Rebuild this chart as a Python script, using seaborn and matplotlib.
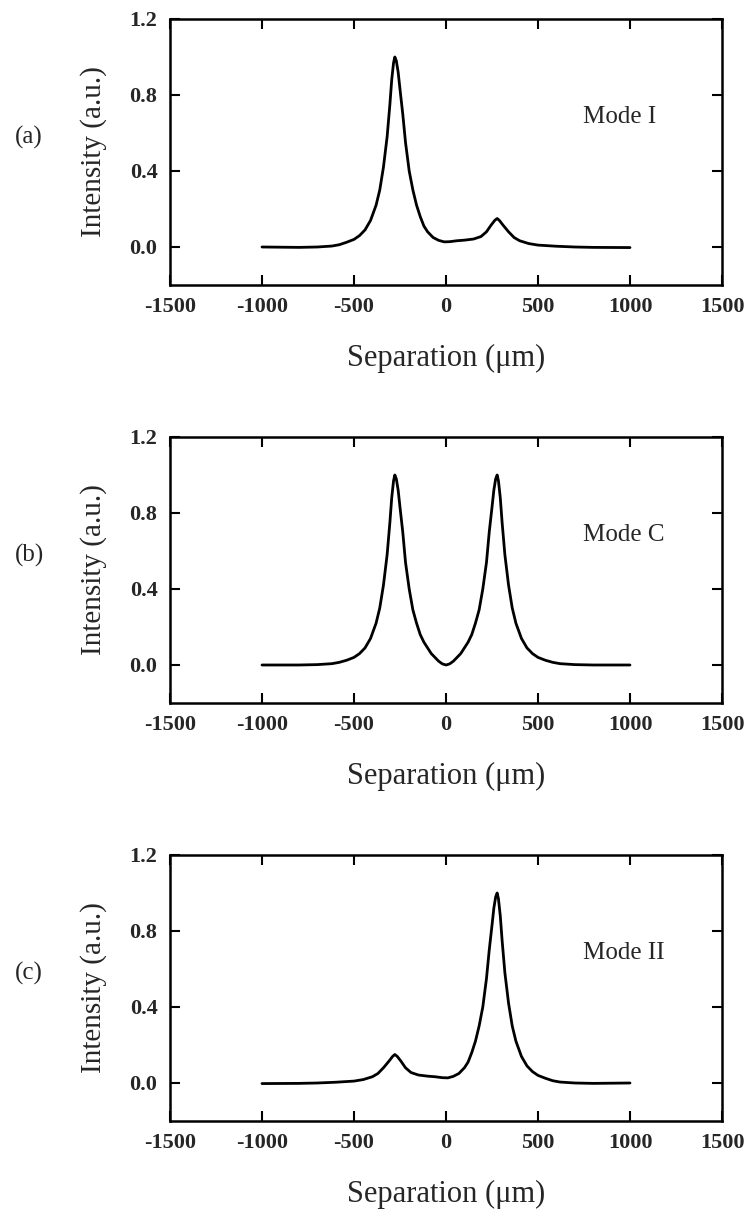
import numpy as np
import pandas as pd
import matplotlib
matplotlib.use("Agg")
import matplotlib.pyplot as plt
import seaborn as sns

# ---- data ----
sep_I = [-1000, -800, -700, -620, -580, -540, -500, -470, -440, -410, -380, -360, -340, -320, -305, -295, -285, -278, -270, -260, -250, -235, -220, -200, -180, -160, -140, -120, -100, -70, -40, -10, 20, 60, 100, 150, 190, 220, 245, 265, 278, 290, 310, 340, 370, 400, 450, 500, 600, 700, 800, 1000]
int_I = [0.0, -0.002, 0.0, 0.005, 0.012, 0.025, 0.04, 0.06, 0.09, 0.14, 0.22, 0.30, 0.42, 0.58, 0.75, 0.88, 0.97, 1.0, 0.98, 0.92, 0.83, 0.70, 0.55, 0.40, 0.30, 0.22, 0.16, 0.11, 0.08, 0.05, 0.035, 0.027, 0.028, 0.033, 0.036, 0.042, 0.055, 0.08, 0.115, 0.14, 0.15, 0.14, 0.115, 0.08, 0.05, 0.033, 0.018, 0.01, 0.004, 0.0, -0.002, -0.003]

sep_C = [-1000, -800, -700, -620, -580, -540, -500, -470, -440, -410, -380, -360, -340, -320, -305, -295, -285, -278, -270, -260, -250, -235, -220, -200, -180, -160, -140, -120, -100, -80, -60, -40, -20, 0,
         20, 40, 60, 80, 100, 120, 140, 160, 180, 200, 220, 235, 250, 260, 270, 278, 285, 295, 305, 320, 340, 360, 380, 410, 440, 470, 500, 540, 580, 620, 700, 800, 1000]
int_C = [0.0, 0.0, 0.002, 0.007, 0.014, 0.025, 0.04, 0.06, 0.09, 0.14, 0.22, 0.30, 0.42, 0.58, 0.75, 0.88, 0.97, 1.0, 0.98, 0.92, 0.83, 0.70, 0.54, 0.40, 0.29, 0.22, 0.16, 0.12, 0.09, 0.06, 0.04, 0.02, 0.006, 0.0,
         0.006, 0.02, 0.04, 0.06, 0.09, 0.12, 0.16, 0.22, 0.29, 0.40, 0.54, 0.70, 0.83, 0.92, 0.98, 1.0, 0.97, 0.88, 0.75, 0.58, 0.42, 0.30, 0.22, 0.14, 0.09, 0.06, 0.04, 0.025, 0.014, 0.007, 0.002, 0.0, 0.0]

sep_II = [-1000, -800, -700, -600, -500, -450, -400, -370, -340, -310, -290, -278, -265, -245, -220, -190, -150, -100, -60, -20, 10, 40, 70, 100, 120, 140, 160, 180, 200, 220, 235, 250, 260, 270, 278, 285, 295, 305, 320, 340, 360, 380, 410, 440, 470, 500, 540, 580, 620, 700, 800, 1000]
int_II = [-0.003, -0.002, 0.0, 0.004, 0.01, 0.018, 0.033, 0.05, 0.08, 0.115, 0.14, 0.15, 0.14, 0.115, 0.08, 0.055, 0.042, 0.036, 0.033, 0.028, 0.027, 0.035, 0.05, 0.08, 0.11, 0.16, 0.22, 0.30, 0.40, 0.55, 0.70, 0.83, 0.92, 0.98, 1.0, 0.97, 0.88, 0.75, 0.58, 0.42, 0.30, 0.22, 0.14, 0.09, 0.06, 0.04, 0.025, 0.012, 0.005, 0.0, -0.002, 0.0]

panel_tags = ["(a)", "(b)", "(c)"]
mode_names = ["Mode I", "Mode C", "Mode II"]
x_ticks = [-1500, -1000, -500, 0, 500, 1000, 1500]
y_ticks = [0.0, 0.4, 0.8, 1.2]
x_label = "Separation (\u03bcm)"
y_label = "Intensity (a.u.)"

series = [(sep_I, int_I), (sep_C, int_C), (sep_II, int_II)]

sns.set_style("ticks")
plt.rcParams["font.family"] = ["Liberation Serif", "DejaVu Serif"]

fig = plt.figure(figsize=(7.48, 12.16), dpi=100)
W, H = 748, 1216
tops = [19, 437, 855]
ax_h = 266
left_px, right_px = 170, 722

for i, (xs, ys) in enumerate(series):
    top = tops[i]
    ax = fig.add_axes([left_px / W, 1 - (top + ax_h) / H, (right_px - left_px) / W, ax_h / H])
    df = pd.DataFrame({"x": xs, "y": ys})
    sns.lineplot(data=df, x="x", y="y", ax=ax, color="black", linewidth=2.0,
                 estimator=None, sort=False)
    ax.set_xlim(-1500, 1500)
    ax.set_ylim(-0.2, 1.2)
    ax.set_xticks(x_ticks)
    ax.set_yticks(y_ticks)
    ax.set_xticklabels([str(t) for t in x_ticks], fontweight="bold", fontsize=16)
    ax.set_yticklabels([f"{t:.1f}" for t in y_ticks], fontweight="bold", fontsize=16)
    ax.tick_params(axis="both", direction="in", length=7, width=1.5,
                   top=True, right=True, color="black")
    ax.tick_params(axis="x", pad=9)
    ax.tick_params(axis="y", pad=9)
    for sp in ax.spines.values():
        sp.set_linewidth(1.8)
        sp.set_color("black")
    ax.set_xlabel(x_label, fontsize=22, labelpad=19)
    ax.set_ylabel(y_label, fontsize=21, labelpad=16)
    ax.text(742, 0.684, mode_names[i], fontsize=18, ha="left", va="center")
    fig.text(29 / W, 1 - (top + 118) / H, panel_tags[i], fontsize=18,
             ha="center", va="center")

fig.savefig("out.png", dpi=100, facecolor="white")
